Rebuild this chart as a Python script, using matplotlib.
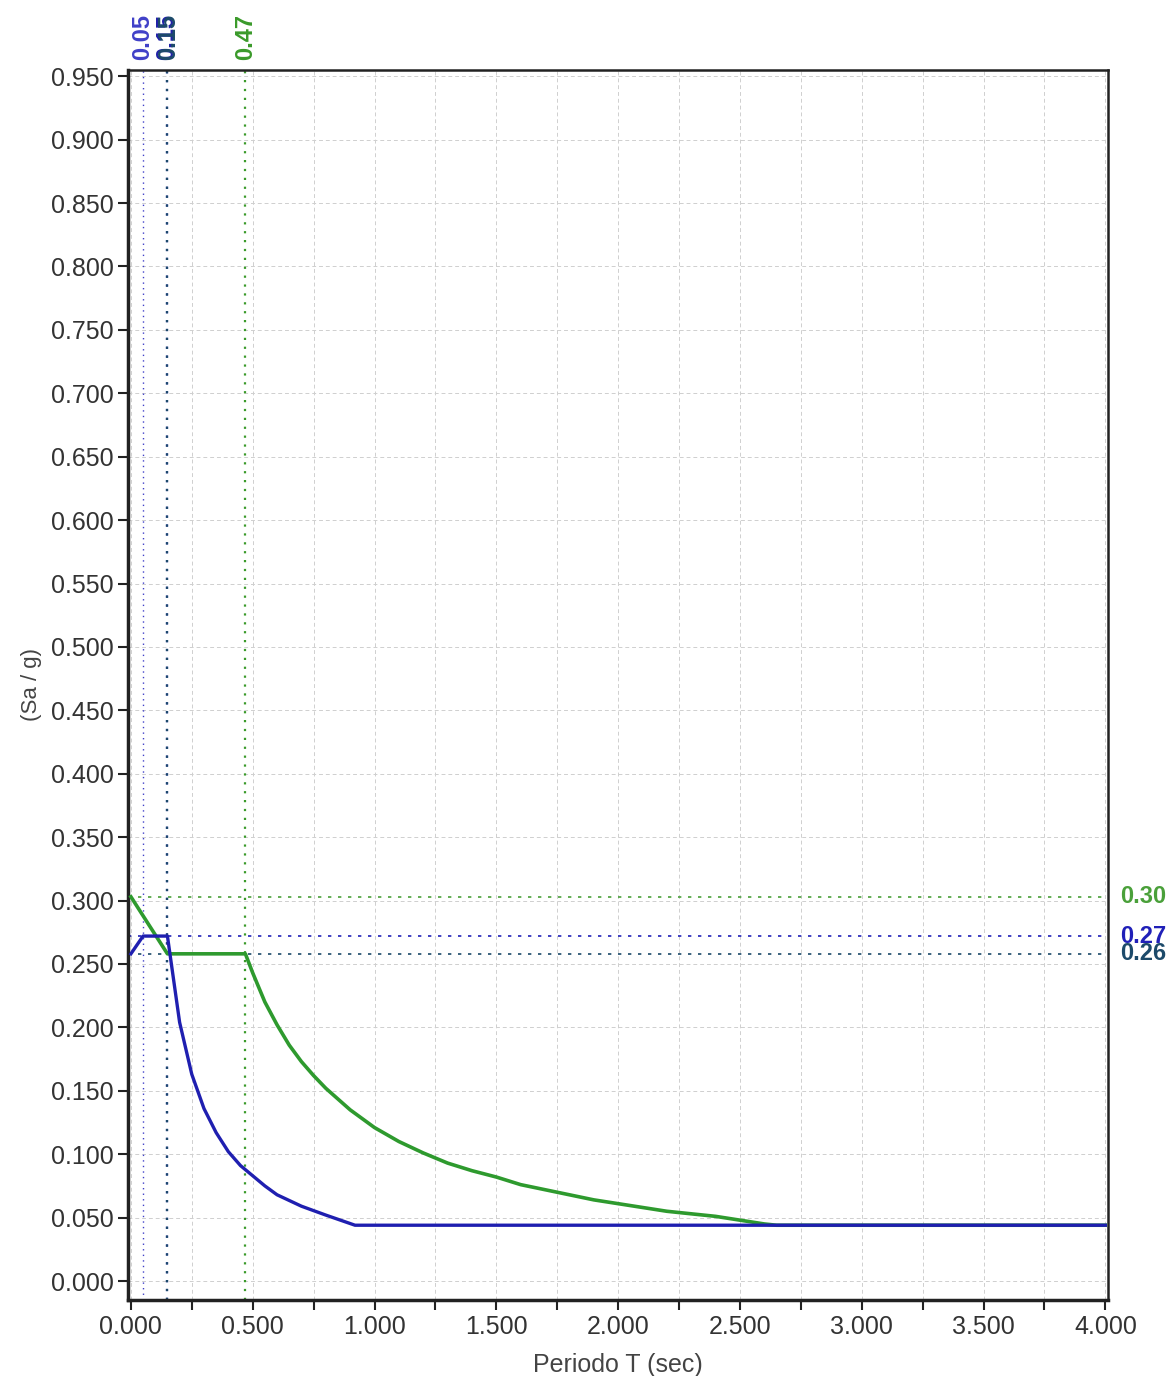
import matplotlib.pyplot as plt
from matplotlib.ticker import MultipleLocator

plt.rcParams['font.family'] = ['Liberation Sans', 'DejaVu Sans']

# Spectrum: period T (sec) and Sa/g
t_blue = [0.0, 0.05, 0.15, 0.20, 0.25, 0.30, 0.35, 0.40, 0.45, 0.50, 0.55, 0.60, 0.70, 0.80, 0.92, 4.0]
sa_blue = [0.258, 0.272, 0.272, 0.204, 0.163, 0.136, 0.117, 0.102, 0.091, 0.083, 0.075, 0.068,
           0.059, 0.052, 0.044, 0.044]

t_green = [0.0, 0.15, 0.47, 0.50, 0.55, 0.60, 0.65, 0.70, 0.75, 0.80, 0.90, 1.00, 1.10, 1.20, 1.30, 1.40,
           1.50, 1.60, 1.70, 1.80, 1.90, 2.00, 2.10, 2.20, 2.30, 2.40, 2.50, 2.60, 2.65, 4.0]
sa_green = [0.303, 0.258, 0.258, 0.243, 0.220, 0.202, 0.186, 0.173, 0.162, 0.152, 0.135, 0.121,
            0.110, 0.101, 0.093, 0.087, 0.082, 0.076, 0.072, 0.068, 0.064, 0.061, 0.058, 0.055,
            0.053, 0.051, 0.048, 0.045, 0.044, 0.044]

# marker lines: value, label, colour
v_marks = [(0.05, '0.05', '#4040c8'), (0.15, '0.15', '#2020a8'), (0.15, '0.15', '#1c4a6a'), (0.47, '0.47', '#3a9a2a')]
h_marks = [(0.303, '0.30', '#4aa03a'), (0.272, '0.27', '#2020b8'), (0.258, '0.26', '#1c4a6a')]

blue = '#1f1fb0'
green = '#2e9a2e'

fig = plt.figure(figsize=(11.74, 13.76), dpi=100)
ax = fig.add_axes([0.109, 0.0552, 0.835, 0.894])

ax.set_xlim(-0.012, 4.012)
ax.set_ylim(-0.015, 0.955)
ax.xaxis.set_major_locator(MultipleLocator(0.5))
ax.xaxis.set_minor_locator(MultipleLocator(0.25))
ax.yaxis.set_major_locator(MultipleLocator(0.05))
ax.xaxis.set_major_formatter(lambda v, p: f'{v:.3f}')
ax.yaxis.set_major_formatter(lambda v, p: f'{v:.3f}')
ax.grid(True, which='both', color='#cfcfcf', linestyle=(0, (4, 3)), linewidth=0.7)
ax.set_axisbelow(True)

ax.tick_params(which='both', direction='out', length=7, width=1.5, labelsize=18,
               color='#222222', labelcolor='#333333')
for name, sp in ax.spines.items():
    sp.set_linewidth(2.5 if name in ('left', 'bottom') else 1.8)
    sp.set_color('#222222')

for val, lab, col in v_marks:
    lw = 1.0 if col == '#4040c8' else 1.6
    ax.axvline(val, color=col, linestyle=(0, (1, 3)), linewidth=lw, zorder=2)
for val, lab, col in h_marks:
    ax.axhline(val, color=col, linestyle=(0, (2, 4)), linewidth=1.2, zorder=2)

ax.plot(t_green, sa_green, color=green, linewidth=2.6, zorder=3)
ax.plot(t_blue, sa_blue, color=blue, linewidth=2.4, zorder=4)

# value labels outside the frame (the reference also lets 0.27 and 0.26 overlap)
offsets = [0.0, -0.004, 0.004, 0.0]
for (val, lab, col), off in zip(v_marks, offsets):
    ax.text(val + off, 1.008, lab, transform=ax.get_xaxis_transform(), rotation=90,
            ha='center', va='bottom', fontsize=17, fontweight='bold', color=col)
for val, lab, col in h_marks:
    ax.text(1.012, val, lab, transform=ax.get_yaxis_transform(), ha='left', va='center',
            fontsize=17, fontweight='bold', color=col)

ax.set_xlabel('Periodo T (sec)', fontsize=18, color='#444444', labelpad=10)
ax.set_ylabel('(Sa / g)', fontsize=16, color='#444444')
ax.yaxis.set_label_coords(-0.088, 0.5)

fig.savefig('out.png', dpi=100)
